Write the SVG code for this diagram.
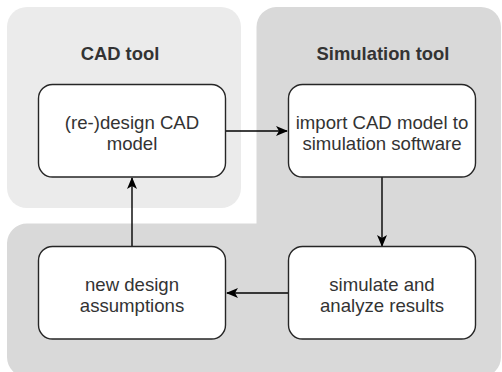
<svg xmlns="http://www.w3.org/2000/svg" width="502" height="372" viewBox="0 0 502 372">
<style>
.node{fill:#ffffff;stroke:#262626;stroke-width:1.4}
.lbl{font-family:"Liberation Sans",Arial,sans-serif;font-size:18.6px;fill:#333333;text-anchor:middle}
.title{font-family:"Liberation Sans",Arial,sans-serif;font-size:18.4px;font-weight:bold;fill:#333333;text-anchor:middle}
.edge{fill:none;stroke:#000000;stroke-width:1.4}
</style>
<defs>
<marker id="arr" viewBox="0 0 12 10" refX="11" refY="5" markerWidth="12" markerHeight="10" markerUnits="userSpaceOnUse" orient="auto">
<path d="M0,0 L12,5 L0,10 L3,5 Z" fill="#000000"/>
</marker>
</defs>
<g id="cad-tool">
<rect x="7" y="7" width="234" height="201" rx="20" ry="20" fill="#ebebeb"/>
<text class="title" x="120" y="60">CAD tool</text>
</g>
<g id="simulation-tool">
<path d="M276,7 H481 A20,20 0 0 1 501,27 V357 A20,20 0 0 1 481,377 H27 A20,20 0 0 1 7,357 V243 A20,20 0 0 1 27,223.5 H256.5 V27 A20,20 0 0 1 276,7 Z" fill="#d9d9d9"/>
<text class="title" x="383" y="60">Simulation tool</text>
</g>
<g id="connectors">
<path class="edge" d="M225.5,131 H287" marker-end="url(#arr)"/>
<path class="edge" d="M382,177 V246" marker-end="url(#arr)"/>
<path class="edge" d="M288.5,293 H227" marker-end="url(#arr)"/>
<path class="edge" d="M132,246.5 V178" marker-end="url(#arr)"/>
</g>
<g id="node-redesign">
<rect class="node" x="38.5" y="84.5" width="187" height="92.5" rx="14" ry="14"/>
<text class="lbl" x="132" y="128.5">(re-)design CAD</text>
<text class="lbl" x="132" y="150">model</text>
</g>
<g id="node-import">
<rect class="node" x="288.5" y="84.5" width="187" height="92.5" rx="14" ry="14"/>
<text class="lbl" x="382" y="128.5">import CAD model to</text>
<text class="lbl" x="382" y="150">simulation software</text>
</g>
<g id="node-assumptions">
<rect class="node" x="38.5" y="246.5" width="187" height="92.5" rx="14" ry="14"/>
<text class="lbl" x="132" y="290.5">new design</text>
<text class="lbl" x="132" y="312">assumptions</text>
</g>
<g id="node-simulate">
<rect class="node" x="288.5" y="246.5" width="187" height="92.5" rx="14" ry="14"/>
<text class="lbl" x="382" y="290.5">simulate and</text>
<text class="lbl" x="382" y="312">analyze results</text>
</g>
</svg>
